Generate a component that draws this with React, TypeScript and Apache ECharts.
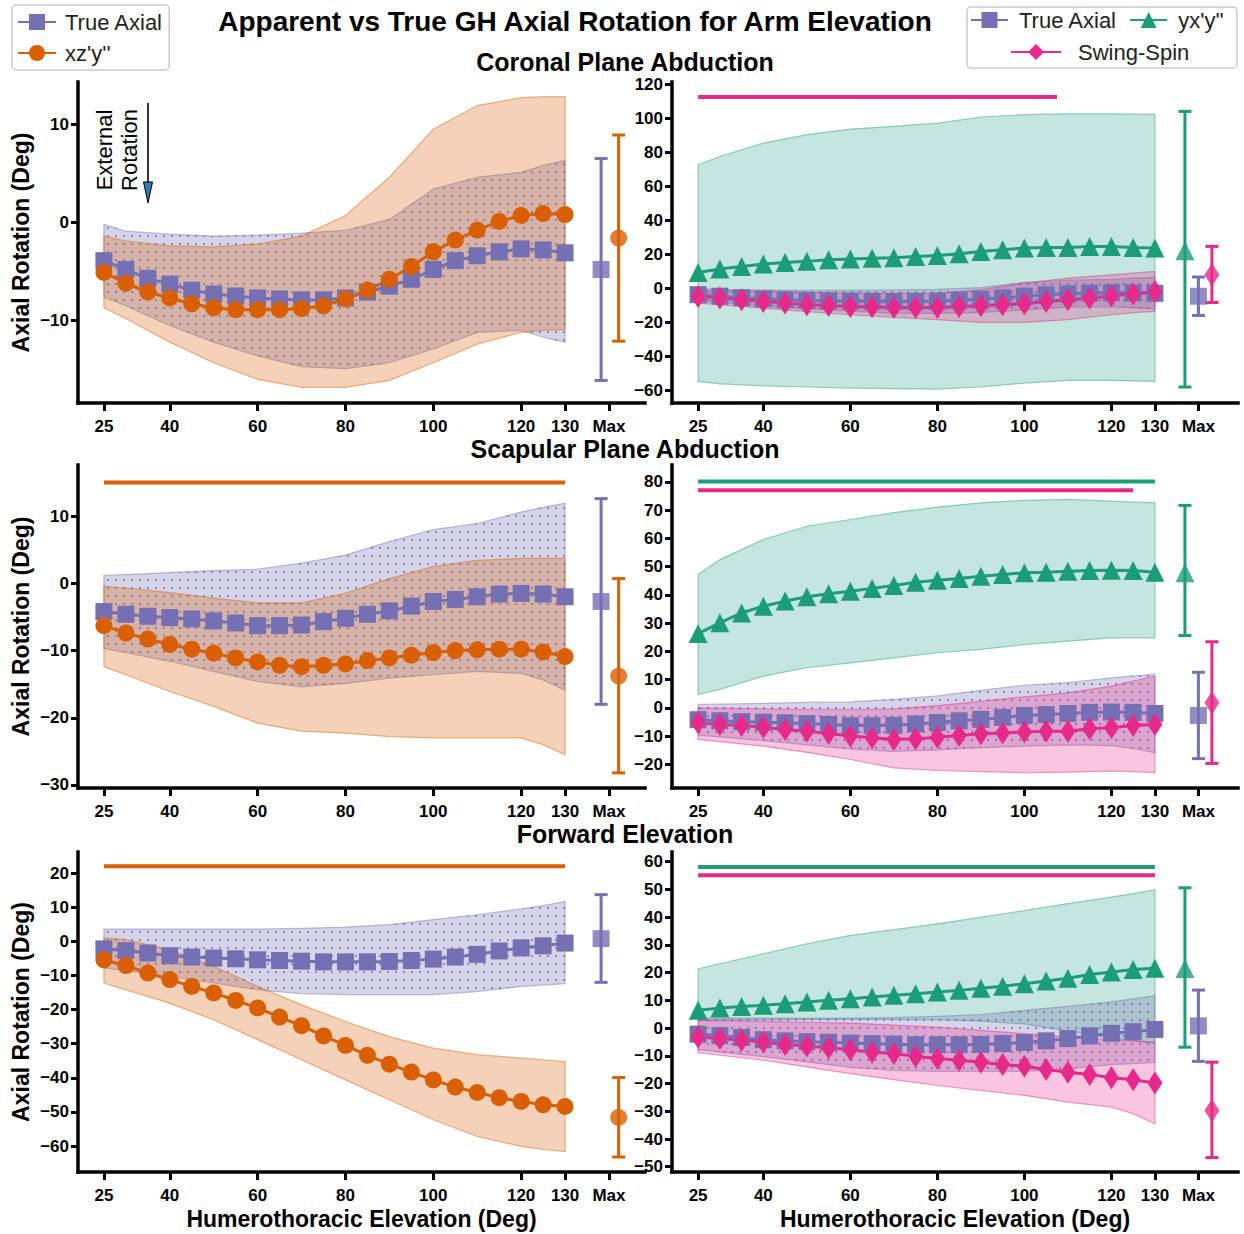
import React, { useEffect, useRef } from 'react';
import * as echarts from 'echarts';

// ---------- data ----------
const X = [25, 30, 35, 40, 45, 50, 55, 60, 65, 70, 75, 80, 85, 90, 95, 100, 105, 110, 115, 120, 125, 130];
const BX = [25, 30, 40, 50, 60, 70, 80, 90, 100, 110, 120, 125, 130];
const X_TICKS = [25, 40, 60, 80, 100, 120, 130, 140];

// Coronal plane abduction
const corTrue = [-3.9, -4.8, -5.7, -6.3, -6.9, -7.3, -7.5, -7.7, -7.8, -7.9, -7.9, -7.7, -7.1, -6.5, -5.8, -4.8, -3.9, -3.4, -3.0, -2.7, -2.8, -3.1];
const corXZY = [-5.1, -6.2, -7.1, -7.7, -8.3, -8.7, -8.9, -8.9, -8.9, -8.8, -8.5, -7.8, -6.9, -5.8, -4.5, -3.0, -1.8, -0.8, 0.1, 0.7, 0.9, 0.8];
const corYXY = [9.2, 11.2, 12.7, 14.1, 15.1, 15.7, 16.6, 17.1, 17.6, 17.8, 18.6, 19.2, 20.2, 21.5, 22.5, 23.5, 23.9, 23.9, 24.5, 24.5, 23.9, 23.5];
const corSS = [-4.9, -5.9, -6.9, -7.9, -8.8, -9.8, -10.2, -10.8, -11.0, -11.4, -11.4, -11.4, -10.8, -10.4, -9.8, -9.2, -7.9, -6.9, -5.9, -4.5, -3.5, -2.0];
const corTrueHi = [-0.2, -0.9, -1.2, -1.4, -1.3, -1.1, -0.8, 0.3, 3.4, 4.6, 5.1, 5.8, 6.3];
const corTrueLo = [-7.6, -8.5, -10.5, -12.2, -13.6, -14.7, -14.9, -14.3, -12.9, -11.2, -11.0, -11.7, -12.2];
const corXZYHi = [-1.4, -1.9, -2.4, -2.5, -2.2, -1.4, 0.7, 4.6, 9.5, 11.9, 12.7, 12.8, 12.8];
const corXZYLo = [-8.7, -9.8, -12.2, -14.3, -16.0, -16.8, -16.8, -16.1, -14.3, -12.4, -11.2, -11.0, -10.9];
const corYXYHi = [72.5, 77.4, 85.3, 90.2, 93.5, 95.1, 97.0, 100.6, 102.0, 102.5, 102.5, 102.3, 102.2];
const corYXYLo = [-54.9, -56.3, -57.5, -58.2, -58.8, -59.2, -59.4, -58.2, -55.9, -54.3, -54.3, -54.6, -54.9];
const corSSHi = [-1.0, -1.5, -2.0, -2.5, -2.9, -3.0, -2.9, -1.0, 2.9, 5.9, 7.8, 8.8, 9.8];
const corSSLo = [-8.8, -9.8, -11.8, -13.8, -15.7, -17.3, -18.6, -20.2, -20.2, -18.6, -15.7, -14.5, -13.7];
const corTrueMax = [-4.8, -16.1, 6.5];
const corXZYMax = [-1.6, -12.1, 8.9];
const corYXYMax = [22.0, -58.2, 103.9];
const corSSMax = [7.8, -8.5, 24.5];
const corSigSS = [25, 107.5, 112.4];

// Scapular plane abduction
const scapTrue = [-4.2, -4.6, -4.9, -5.1, -5.3, -5.6, -5.9, -6.3, -6.3, -6.2, -5.7, -5.2, -4.6, -4.1, -3.4, -2.7, -2.4, -2.0, -1.6, -1.5, -1.6, -2.0];
const scapXZY = [-6.3, -7.4, -8.3, -9.1, -9.8, -10.4, -11.1, -11.7, -12.2, -12.4, -12.2, -12.0, -11.5, -11.1, -10.7, -10.3, -10.0, -9.9, -9.8, -9.8, -10.2, -10.9];
const scapYXY = [26.3, 30.1, 33.6, 36.0, 37.8, 39.3, 40.4, 41.3, 42.3, 43.3, 44.5, 45.2, 45.8, 46.6, 47.2, 47.8, 48.0, 48.4, 48.6, 48.7, 48.6, 48.0];
const scapSS = [-5.3, -5.9, -6.3, -6.9, -7.7, -8.3, -9.1, -10.0, -10.6, -11.2, -11.0, -10.4, -9.8, -9.2, -8.9, -8.6, -8.3, -8.3, -7.4, -7.1, -6.3, -5.9];
const scapTrueHi = [1.2, 1.3, 1.6, 1.9, 2.1, 3.0, 4.2, 6.2, 8.0, 8.9, 10.6, 11.3, 11.9];
const scapTrueLo = [-9.7, -10.3, -11.6, -13.1, -14.6, -15.4, -14.9, -14.1, -13.6, -13.1, -13.4, -14.4, -15.9];
const scapXZYHi = [-0.4, -0.7, -1.4, -2.2, -2.9, -2.9, -1.5, 0.7, 2.5, 3.4, 3.7, 3.7, 3.7];
const scapXZYLo = [-12.4, -13.6, -16.1, -18.3, -20.8, -22.0, -22.3, -22.8, -23.0, -23.0, -23.0, -24.0, -25.5];
const scapYXYHi = [47.2, 52.5, 59.6, 64.3, 66.7, 69.1, 71.1, 72.6, 73.5, 73.8, 73.2, 72.9, 72.6];
const scapYXYLo = [4.7, 6.5, 11.2, 14.2, 15.9, 17.7, 19.5, 20.7, 22.4, 23.6, 24.8, 24.8, 24.8];
const scapSSHi = [0.0, -0.2, -0.4, -0.5, -0.6, -0.4, 0.8, 2.3, 3.9, 5.3, 7.7, 9.5, 11.2];
const scapSSLo = [-11.2, -12.0, -13.6, -15.8, -18.3, -21.3, -22.2, -22.6, -23.0, -22.8, -22.4, -22.6, -23.0];
const scapTrueMax = [-2.7, -18.0, 12.6];
const scapXZYMax = [-13.8, -28.2, 0.7];
const scapYXYMax = [47.8, 25.6, 71.7];
const scapSSMax = [1.8, -19.7, 23.4];
const scapSigXZY = [25, 130, 15.0];
const scapSigYXY = [25, 130, 80.2];
const scapSigSS = [25, 125, 77.1];

// Forward elevation
const fwdTrue = [-2.2, -2.7, -3.4, -4.2, -4.6, -4.9, -5.1, -5.4, -5.6, -5.8, -6.0, -6.0, -6.0, -5.9, -5.6, -5.2, -4.6, -3.8, -2.8, -1.9, -1.3, -0.5];
const fwdXZY = [-5.4, -7.1, -9.3, -11.2, -13.2, -15.1, -17.3, -19.5, -22.2, -24.7, -27.7, -30.5, -33.4, -36.0, -38.3, -40.6, -42.7, -44.3, -45.8, -46.9, -47.9, -48.4];
const fwdYXY = [6.4, 7.2, 7.8, 8.2, 8.8, 9.4, 10.0, 10.6, 11.2, 11.8, 12.4, 13.0, 13.6, 14.4, 15.1, 16.0, 17.0, 18.0, 19.3, 20.2, 21.1, 21.6];
const fwdSS = [-3.2, -3.8, -4.4, -5.0, -5.9, -6.5, -7.1, -7.8, -8.7, -9.2, -10.2, -11.0, -11.6, -12.3, -13.1, -13.8, -14.9, -15.9, -16.7, -17.9, -18.6, -19.8];
const fwdTrueHi = [3.6, 3.6, 3.6, 3.6, 3.6, 3.8, 4.2, 4.9, 6.4, 7.8, 9.5, 10.5, 11.7];
const fwdTrueLo = [-7.8, -8.6, -10.3, -12.2, -14.2, -15.3, -15.6, -15.6, -15.6, -14.7, -13.2, -12.8, -12.4];
const fwdXZYHi = [1.0, 0.5, -2.4, -7.3, -13.2, -18.6, -23.5, -27.9, -31.3, -33.2, -34.2, -34.7, -35.2];
const fwdXZYLo = [-12.2, -14.2, -18.1, -23.0, -28.8, -34.7, -40.6, -46.4, -52.3, -57.2, -60.1, -61.0, -61.6];
const fwdYXYHi = [21.4, 23.2, 26.8, 30.4, 33.4, 35.5, 37.6, 40.0, 42.4, 44.9, 47.2, 48.5, 49.9];
const fwdYXYLo = [2.8, 2.9, 3.0, 3.1, 3.2, 3.1, 3.0, 2.5, 1.5, -1.0, -3.5, -4.5, -5.5];
const fwdSSHi = [2.8, 2.7, 2.4, 2.1, 1.8, 1.1, 0.4, -0.8, -2.0, -3.2, -4.2, -4.6, -5.0];
const fwdSSLo = [-8.9, -9.8, -11.6, -14.0, -16.4, -18.6, -20.7, -22.5, -24.3, -26.7, -28.5, -30.9, -34.5];
const fwdTrueMax = [0.8, -12.0, 13.7];
const fwdXZYMax = [-51.6, -63.2, -39.9];
const fwdYXYMax = [21.5, -6.9, 50.6];
const fwdSSMax = [-29.7, -46.7, -12.3];
const fwdSigXZY = [25, 130, 22.0];
const fwdSigYXY = [25, 130, 58.1];
const fwdSigSS = [25, 130, 55.1];

// ---------- styling ----------
const FONT = "'Liberation Sans', Arial, Helvetica, sans-serif";
const COL: Record<string, string> = { true: '#7570b3', xzy: '#d95f02', yxy: '#1b9e77', ss: '#e7298a' };
const RGB: Record<string, string> = { true: '117,112,179', xzy: '217,95,2', yxy: '27,158,119', ss: '231,41,138' };
const BAND_A: Record<string, number> = { true: 0.3, xzy: 0.28, yxy: 0.26, ss: 0.27 };
const SYM: Record<string, string> = { true: 'rect', xzy: 'circle', yxy: 'triangle', ss: 'diamond' };
const SSIZE: Record<string, any> = { true: 17, xzy: 17, yxy: 19, ss: [15, 23] };
const NAME: Record<string, string> = { true: 'True Axial', xzy: "xz'y''", yxy: "yx'y''", ss: 'Swing-Spin' };

type Panel = {
  col: number; row: number; y: [number, number]; yTicks: number[];
  bands: [string, number[], number[]][];
  lines: [string, number[]][];
  maxes: [string, number[], number][];
  sigs: [string, number[]][];
};

const range = (a: number, b: number, s: number) => { const r: number[] = []; for (let v = a; v <= b + 1e-9; v += s) r.push(v); return r; };

const PANELS: Panel[] = [
  { col: 0, row: 0, y: [-18.4, 14.3], yTicks: [-10, 0, 10],
    bands: [['true', corTrueLo, corTrueHi], ['xzy', corXZYLo, corXZYHi]],
    lines: [['true', corTrue], ['xzy', corXZY]],
    maxes: [['true', corTrueMax, 138.2], ['xzy', corXZYMax, 142.2]], sigs: [] },
  { col: 1, row: 0, y: [-67.6, 121.2], yTicks: range(-60, 120, 20),
    bands: [['yxy', corYXYLo, corYXYHi], ['true', corTrueLo, corTrueHi], ['ss', corSSLo, corSSHi]],
    lines: [['true', corTrue], ['yxy', corYXY], ['ss', corSS]],
    maxes: [['yxy', corYXYMax, 136.9], ['true', corTrueMax, 140.0], ['ss', corSSMax, 143.1]],
    sigs: [['ss', corSigSS]] },
  { col: 0, row: 1, y: [-30.45, 17.6], yTicks: range(-30, 10, 10),
    bands: [['true', scapTrueLo, scapTrueHi], ['xzy', scapXZYLo, scapXZYHi]],
    lines: [['true', scapTrue], ['xzy', scapXZY]],
    maxes: [['true', scapTrueMax, 138.2], ['xzy', scapXZYMax, 142.2]],
    sigs: [['xzy', scapSigXZY]] },
  { col: 1, row: 1, y: [-28.4, 86.0], yTicks: range(-20, 80, 10),
    bands: [['yxy', scapYXYLo, scapYXYHi], ['true', scapTrueLo, scapTrueHi], ['ss', scapSSLo, scapSSHi]],
    lines: [['true', scapTrue], ['yxy', scapYXY], ['ss', scapSS]],
    maxes: [['yxy', scapYXYMax, 136.9], ['true', scapTrueMax, 140.0], ['ss', scapSSMax, 143.1]],
    sigs: [['yxy', scapSigYXY], ['ss', scapSigSS]] },
  { col: 0, row: 2, y: [-67.6, 26.2], yTicks: range(-60, 20, 10),
    bands: [['true', fwdTrueLo, fwdTrueHi], ['xzy', fwdXZYLo, fwdXZYHi]],
    lines: [['true', fwdTrue], ['xzy', fwdXZY]],
    maxes: [['true', fwdTrueMax, 138.2], ['xzy', fwdXZYMax, 142.2]],
    sigs: [['xzy', fwdSigXZY]] },
  { col: 1, row: 2, y: [-51.9, 63.5], yTicks: range(-50, 60, 10),
    bands: [['yxy', fwdYXYLo, fwdYXYHi], ['true', fwdTrueLo, fwdTrueHi], ['ss', fwdSSLo, fwdSSHi]],
    lines: [['true', fwdTrue], ['yxy', fwdYXY], ['ss', fwdSS]],
    maxes: [['yxy', fwdYXYMax, 136.9], ['true', fwdTrueMax, 140.0], ['ss', fwdSSMax, 143.1]],
    sigs: [['yxy', fwdSigYXY], ['ss', fwdSigSS]] },
];

const ROWS = [[82, 321], [465, 323], [852, 320]];
const COLS = [[78, 567, 19.1, 148.2], [672, 566, 19.0, 149.1]];

const fmtNum = (v: number) => (v < 0 ? '\u2212' + Math.abs(v) : String(v));

function makeDotPattern() {
  const c = document.createElement('canvas');
  c.width = 8; c.height = 8;
  const ctx = c.getContext('2d');
  if (ctx) {
    ctx.fillStyle = 'rgba(95,90,160,0.75)';
    ctx.beginPath(); ctx.arc(4, 4, 1.1, 0, Math.PI * 2); ctx.fill();
  }
  return { image: c.toDataURL(), repeat: 'repeat', imageWidth: 8, imageHeight: 8 };
}

function buildOption() {
  const dots = makeDotPattern();
  const grid: any[] = [], xAxis: any[] = [], yAxis: any[] = [], series: any[] = [];
  PANELS.forEach((p, gi) => {
    const [gl, gw, xmin, xmax] = COLS[p.col];
    const [gt, gh] = ROWS[p.row];
    grid.push({ left: gl, top: gt, width: gw, height: gh, containLabel: false });
    xAxis.push({
      type: 'value', gridIndex: gi, min: xmin, max: xmax,
      name: p.row === 2 ? 'Humerothoracic Elevation (Deg)' : '',
      nameLocation: 'middle', nameGap: 35,
      nameTextStyle: { fontFamily: FONT, fontSize: 23, fontWeight: 'bold', color: '#000' },
      axisLine: { show: true, onZero: false, lineStyle: { color: '#000', width: 3.5, cap: 'square' } },
      axisTick: { show: true, customValues: X_TICKS, length: 8, lineStyle: { color: '#000', width: 3 } },
      axisLabel: { customValues: X_TICKS, formatter: (v: number) => (v === 140 ? 'Max' : String(v)),
        fontFamily: FONT, fontSize: 17, fontWeight: 'bold', color: '#000', margin: 15 },
      splitLine: { show: false },
    });
    yAxis.push({
      type: 'value', gridIndex: gi, min: p.y[0], max: p.y[1],
      name: p.col === 0 ? 'Axial Rotation (Deg)' : '',
      nameLocation: 'middle', nameGap: 46, nameRotate: 90,
      nameTextStyle: { fontFamily: FONT, fontSize: 23, fontWeight: 'bold', color: '#000' },
      axisLine: { show: true, onZero: false, lineStyle: { color: '#000', width: 3.5, cap: 'square' } },
      axisTick: { show: true, customValues: p.yTicks, length: 7, lineStyle: { color: '#000', width: 3 } },
      axisLabel: { customValues: p.yTicks, formatter: fmtNum,
        fontFamily: FONT, fontSize: 17, fontWeight: 'bold', color: '#000', margin: 9 },
      splitLine: { show: false },
    });
    // bands
    p.bands.forEach(([key, lo, hi]) => {
      series.push({
        type: 'custom', name: 'band-' + key, xAxisIndex: gi, yAxisIndex: gi, z: 1, silent: true,
        data: BX.map((x, i) => [x, lo[i], hi[i]]),
        encode: { x: 0, y: [1, 2] },
        renderItem: (params: any, api: any) => {
          if (params.dataIndex !== 0) return null;
          const top = BX.map((x, i) => api.coord([x, hi[i]]));
          const bot = BX.map((x, i) => api.coord([x, lo[i]])).reverse();
          const pts = top.concat(bot);
          const children: any[] = [{
            type: 'polygon', shape: { points: pts },
            style: { fill: `rgba(${RGB[key]},${BAND_A[key]})`, stroke: `rgba(${RGB[key]},0.45)`, lineWidth: 1.2 },
          }];
          if (key === 'true') {
            children.push({ type: 'polygon', shape: { points: pts }, style: { fill: dots, stroke: null } });
          }
          return { type: 'group', children };
        },
      });
    });
    // significance bars
    p.sigs.forEach(([key, s]) => {
      series.push({
        type: 'line', name: 'sig-' + key, xAxisIndex: gi, yAxisIndex: gi, z: 2, silent: true,
        data: [[s[0], s[2]], [s[1], s[2]]], symbol: 'none',
        lineStyle: { color: COL[key], width: 4 },
      });
    });
    // main lines
    p.lines.forEach(([key, arr]) => {
      series.push({
        type: 'line', name: NAME[key], xAxisIndex: gi, yAxisIndex: gi, z: 3,
        data: X.map((x, i) => [x, arr[i]]),
        symbol: SYM[key], symbolSize: SSIZE[key], showAllSymbol: true,
        lineStyle: { color: COL[key], width: 3 }, itemStyle: { color: COL[key] },
      });
    });
    // max error bars
    p.maxes.forEach(([key, m, xp]) => {
      series.push({
        type: 'custom', name: 'maxbar-' + key, xAxisIndex: gi, yAxisIndex: gi, z: 4, silent: true,
        data: [[xp, m[0], m[1], m[2]]], encode: { x: 0, y: 1 },
        renderItem: (params: any, api: any) => {
          const x = api.value(0);
          const t = api.coord([x, api.value(3)]);
          const b = api.coord([x, api.value(2)]);
          const w = 6.5;
          const st = { stroke: COL[key], lineWidth: 3 };
          return { type: 'group', children: [
            { type: 'line', shape: { x1: t[0], y1: t[1], x2: b[0], y2: b[1] }, style: st },
            { type: 'line', shape: { x1: t[0] - w, y1: t[1], x2: t[0] + w, y2: t[1] }, style: st },
            { type: 'line', shape: { x1: b[0] - w, y1: b[1], x2: b[0] + w, y2: b[1] }, style: st },
          ] };
        },
      });
      series.push({
        type: 'scatter', name: 'maxpt-' + key, xAxisIndex: gi, yAxisIndex: gi, z: 5, silent: true,
        data: [[xp, m[0]]], symbol: SYM[key], symbolSize: SSIZE[key], itemStyle: { color: COL[key] },
      });
    });
  });

  const legendText = { fontFamily: FONT, fontSize: 22, color: '#222' };
  return {
    animation: false,
    backgroundColor: '#fff',
    grid, xAxis, yAxis, series,
    legend: [
      { data: ['True Axial', "xz'y''"], orient: 'vertical', left: 12, top: 5,
        itemWidth: 38, itemHeight: 20, itemGap: 9, padding: [6, 6, 6, 5],
        borderColor: '#ccc', borderWidth: 1.5, borderRadius: 4, selectedMode: false,
        textStyle: { ...legendText, padding: [0, 0, 0, 4] } },
      { data: ['True Axial', "yx'y''"], orient: 'horizontal', left: 970, top: 9,
        itemWidth: 37, itemHeight: 20, itemGap: 12, padding: 0, selectedMode: false,
        textStyle: { ...legendText, padding: [0, 0, 0, 6] } },
      { data: ['Swing-Spin'], orient: 'horizontal', left: 1010, top: 41,
        itemWidth: 50, itemHeight: 20, padding: 0, selectedMode: false,
        textStyle: { ...legendText, padding: [0, 0, 0, 12] } },
    ],
    graphic: [
      { type: 'rect', shape: { x: 967, y: 7, width: 270, height: 61, r: 4 },
        style: { fill: 'none', stroke: '#ccc', lineWidth: 1.5 }, z: 10, silent: true },
      { type: 'text', x: 575, y: 21, style: { text: 'Apparent vs True GH Axial Rotation for Arm Elevation',
        fontFamily: FONT, fontSize: 28, fontWeight: 'bold', fill: '#000', align: 'center', verticalAlign: 'middle' } },
      { type: 'text', x: 625, y: 62, style: { text: 'Coronal Plane Abduction',
        fontFamily: FONT, fontSize: 25, fontWeight: 'bold', fill: '#000', align: 'center', verticalAlign: 'middle' } },
      { type: 'text', x: 625, y: 449, style: { text: 'Scapular Plane Abduction',
        fontFamily: FONT, fontSize: 25, fontWeight: 'bold', fill: '#000', align: 'center', verticalAlign: 'middle' } },
      { type: 'text', x: 625, y: 834, style: { text: 'Forward Elevation',
        fontFamily: FONT, fontSize: 25, fontWeight: 'bold', fill: '#000', align: 'center', verticalAlign: 'middle' } },
      { type: 'text', x: 117, y: 150, rotation: Math.PI / 2, style: { text: 'External\nRotation',
        fontFamily: FONT, fontSize: 22, lineHeight: 25, fill: '#000', align: 'center', verticalAlign: 'middle' } },
      { type: 'line', shape: { x1: 148, y1: 103, x2: 148, y2: 190 }, style: { stroke: '#000', lineWidth: 1.6 } },
      { type: 'polygon', shape: { points: [[143.5, 182], [152.5, 182], [148, 203]] },
        style: { fill: '#2a7ab8', stroke: '#000', lineWidth: 1 } },
    ],
  };
}

export default function App() {
  const ref = useRef<HTMLDivElement>(null);
  useEffect(() => {
    document.body.style.margin = '0';
    if (!ref.current) return;
    const chart = echarts.init(ref.current, null, { renderer: 'svg' });
    chart.setOption(buildOption() as any);
    return () => chart.dispose();
  }, []);
  return <div ref={ref} style={{ width: 1244, height: 1234, background: '#fff' }} />;
}
